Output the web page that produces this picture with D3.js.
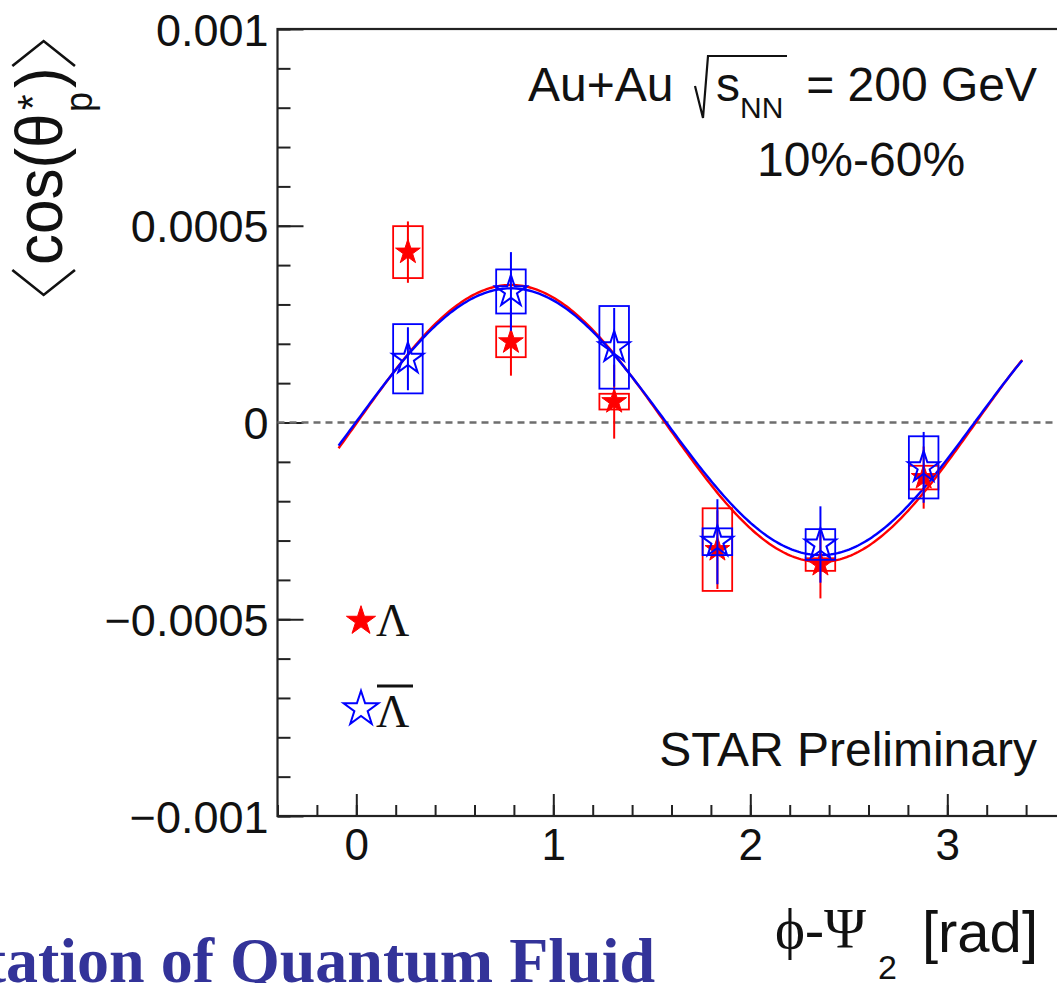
<!DOCTYPE html>
<html>
<head>
<meta charset="utf-8">
<script src="https://cdn.jsdelivr.net/npm/d3@7"></script>
<style>
  html, body { margin: 0; padding: 0; background: #fff; }
  svg { display: block; }
  text { fill: #111; }
</style>
</head>
<body>
<script>
// phi - Psi_2 bin centres (rad)
const phiBins = [0.262, 0.785, 1.309, 1.833, 2.356, 2.880];

// Lambda: value, statistical and systematic uncertainties
const lambdaVal  = [0.000433, 0.000205, 0.000053, -0.000323, -0.000361, -0.000140];
const lambdaStat = [0.000078, 0.000086, 0.000094, 0.000100, 0.000086, 0.000079];
const lambdaSys  = [0.000066, 0.000039, 0.000020, 0.000105, 0.000016, 0.000030];

// anti-Lambda: value, statistical and systematic uncertainties
const antiVal  = [0.000162, 0.000333, 0.000191, -0.000303, -0.000310, -0.000114];
const antiStat = [0.000080, 0.000100, 0.000100, 0.000108, 0.000097, 0.000090];
const antiSys  = [0.000088, 0.000056, 0.000105, 0.000034, 0.000039, 0.000079];

// sine fits p0 + p1*sin(2(phi-Psi2)) : [Lambda, anti-Lambda]
const fitOffset    = [-0.0000025, 0.000002];
const fitAmplitude = [0.000352, 0.000339];
const fitRange     = [-0.09, 3.38];

// axis ticks
const yMajorTicks  = [-0.001, -0.0005, 0, 0.0005, 0.001];
const yTickLabels  = ["\u22120.001", "\u22120.0005", "0", "0.0005", "0.001"];
const xMajorTicks  = [0, 1, 2, 3];
const xTickLabels  = ["0", "1", "2", "3"];

const W = 1057, H = 983;
const RED = "#ff0000", BLUE = "#0000ff";
const SANS = "'Liberation Sans', Arial, Helvetica, sans-serif";
const SERIF = "'Liberation Serif', 'Times New Roman', serif";
const boxHalfWidth = 0.075;

const svg = d3.select("body").append("svg").attr("width", W).attr("height", H)
  .style("font-family", SANS);

const x = d3.scaleLinear().domain([-0.4, 3.6]).range([277.5, 277.5 + 4 * 197]);
const y = d3.scaleLinear().domain([-0.001, 0.001]).range([816, 29]);

// frame
svg.append("rect")
  .attr("x", x(-0.4)).attr("y", y(0.001))
  .attr("width", x(3.6) - x(-0.4)).attr("height", y(-0.001) - y(0.001))
  .attr("fill", "none").attr("stroke", "#222").attr("stroke-width", 2.2);

// minor ticks
const yMinor = d3.range(-10, 11).map(i => i * 0.0001);
svg.append("g").attr("transform", `translate(${x(-0.4)},0)`)
  .call(d3.axisLeft(y).tickValues(yMinor).tickSize(-13).tickFormat(""))
  .call(g => g.select(".domain").remove())
  .call(g => g.selectAll("line").attr("stroke", "#222").attr("stroke-width", 2));

const xMinor = d3.range(-2, 18).map(i => i * 0.2);
svg.append("g").attr("transform", `translate(0,${y(-0.001)})`)
  .call(d3.axisBottom(x).tickValues(xMinor).tickSize(-11).tickFormat(""))
  .call(g => g.select(".domain").remove())
  .call(g => g.selectAll("line").attr("stroke", "#222").attr("stroke-width", 2));

// major ticks with labels
svg.append("g").attr("transform", `translate(${x(-0.4)},0)`)
  .call(d3.axisLeft(y).tickValues(yMajorTicks).tickSize(-26).tickPadding(9)
        .tickFormat((d, i) => yTickLabels[i]))
  .call(g => g.select(".domain").remove())
  .call(g => g.selectAll("line").attr("stroke", "#222").attr("stroke-width", 2))
  .call(g => g.selectAll("text").attr("font-size", 45).attr("fill", "#111")
        .attr("font-family", SANS).attr("dy", "0.36em"));

svg.append("g").attr("transform", `translate(0,${y(-0.001)})`)
  .call(d3.axisBottom(x).tickValues(xMajorTicks).tickSize(-22).tickPadding(13)
        .tickFormat((d, i) => xTickLabels[i]))
  .call(g => g.select(".domain").remove())
  .call(g => g.selectAll("line").attr("stroke", "#222").attr("stroke-width", 2))
  .call(g => g.selectAll("text").attr("font-size", 44).attr("fill", "#111")
        .attr("font-family", SANS));

// dashed zero line
svg.append("line")
  .attr("x1", x(-0.4)).attr("x2", x(3.6)).attr("y1", y(0)).attr("y2", y(0))
  .attr("stroke", "#6e6e6e").attr("stroke-width", 2.6).attr("stroke-dasharray", "7,5");

// fit curves
const fitX = d3.range(0, 301).map(i => fitRange[0] + (fitRange[1] - fitRange[0]) * i / 300);
const fitLine = k => d3.line()
  .x(d => x(d))
  .y(d => y(fitOffset[k] + fitAmplitude[k] * Math.sin(2 * d)))(fitX);

svg.append("path").attr("d", fitLine(0)).attr("fill", "none")
  .attr("stroke", RED).attr("stroke-width", 2.4);
svg.append("path").attr("d", fitLine(1)).attr("fill", "none")
  .attr("stroke", BLUE).attr("stroke-width", 2.4);

// star marker of outer radius R
const star = R => d3.symbol().type(d3.symbolStar).size(R * R / 0.8908130915292852)();

function drawSeries(vals, stat, sys, color, filled, R) {
  const g = svg.append("g");
  const pts = phiBins.map((p, i) => ({ p, v: vals[i], e: stat[i], s: sys[i] }));
  g.selectAll("rect.sys").data(pts).join("rect").attr("class", "sys")
    .attr("x", d => x(d.p - boxHalfWidth)).attr("width", d => x(d.p + boxHalfWidth) - x(d.p - boxHalfWidth))
    .attr("y", d => y(d.v + d.s)).attr("height", d => y(d.v - d.s) - y(d.v + d.s))
    .attr("fill", "none").attr("stroke", color).attr("stroke-width", 1.8);
  g.selectAll("line.stat").data(pts).join("line").attr("class", "stat")
    .attr("x1", d => x(d.p)).attr("x2", d => x(d.p))
    .attr("y1", d => y(d.v + d.e)).attr("y2", d => y(d.v - d.e))
    .attr("stroke", color).attr("stroke-width", 2);
  g.selectAll("path.mk").data(pts).join("path").attr("class", "mk")
    .attr("d", star(R))
    .attr("transform", d => `translate(${x(d.p)},${y(d.v)})`)
    .attr("fill", filled ? color : "none")
    .attr("stroke", color).attr("stroke-width", filled ? 1 : 2);
}
drawSeries(lambdaVal, lambdaStat, lambdaSys, RED, true, 13);
drawSeries(antiVal, antiStat, antiSys, BLUE, false, 16.5);

// legend
svg.append("path").attr("d", star(15.3)).attr("transform", "translate(361,621)")
  .attr("fill", RED).attr("stroke", RED).attr("stroke-width", 1);
svg.append("text").attr("x", 376).attr("y", 636).style("font-family", SERIF)
  .attr("font-size", 46).text("\u039B");
svg.append("path").attr("d", star(18.3)).attr("transform", "translate(361,709)")
  .attr("fill", "none").attr("stroke", BLUE).attr("stroke-width", 2);
svg.append("text").attr("x", 376).attr("y", 727).style("font-family", SERIF)
  .attr("font-size", 46).text("\u039B");
svg.append("line").attr("x1", 377).attr("x2", 413).attr("y1", 686).attr("y2", 686)
  .attr("stroke", "#111").attr("stroke-width", 3);

// collision system label
svg.append("text").attr("x", 528).attr("y", 101).attr("font-size", 48).text("Au+Au");
svg.append("path").attr("d", "M695,86 L703,118 L708,56 L787,56")
  .attr("fill", "none").attr("stroke", "#111").attr("stroke-width", 2.2);
svg.append("text").attr("x", 716).attr("y", 101).attr("font-size", 48).text("s");
svg.append("text").attr("x", 740).attr("y", 118).attr("font-size", 30).text("NN");
svg.append("text").attr("x", 1037).attr("y", 101).attr("font-size", 48)
  .attr("text-anchor", "end").text("= 200 GeV");
svg.append("text").attr("x", 861).attr("y", 176).attr("font-size", 48)
  .attr("text-anchor", "middle").text("10%-60%");
svg.append("text").attr("x", 1037).attr("y", 766).attr("font-size", 48)
  .attr("text-anchor", "end").text("STAR Preliminary");

// x axis title
svg.append("text").attr("x", 775).attr("y", 948).style("font-family", SERIF)
  .attr("font-size", 57).text("\u03D5-\u03A8");
svg.append("text").attr("x", 878).attr("y", 979).attr("font-size", 34).text("2");
svg.append("text").attr("x", 1038).attr("y", 952).attr("font-size", 58)
  .attr("text-anchor", "end").text("[rad]");

// y axis title, rotated
const yt = svg.append("g").attr("transform", "translate(62,298) rotate(-90) scale(1,1.08)");
yt.append("path").attr("d", "M28,-46 L3,-17 L28,12").attr("fill", "none")
  .attr("stroke", "#111").attr("stroke-width", 2.4);
yt.append("text").attr("x", 33).attr("y", 0).attr("font-size", 62).text("cos(\u03B8");
yt.append("text").attr("x", 186).attr("y", 28).attr("font-size", 36).text("p");
yt.append("text").attr("x", 188).attr("y", -14).attr("font-size", 40).text("*");
yt.append("text").attr("x", 210).attr("y", 0).attr("font-size", 62).text(")");
yt.append("path").attr("d", "M232,-46 L257,-17 L232,12").attr("fill", "none")
  .attr("stroke", "#111").attr("stroke-width", 2.4);

// slide title fragment along the bottom
svg.append("text").attr("x", 655).attr("y", 982)
  .style("font-family", SERIF).style("font-weight", "bold")
  .attr("font-size", 64).attr("text-anchor", "end")
  .style("fill", "#333399").text("tation of Quantum Fluid");
</script>
</body>
</html>
